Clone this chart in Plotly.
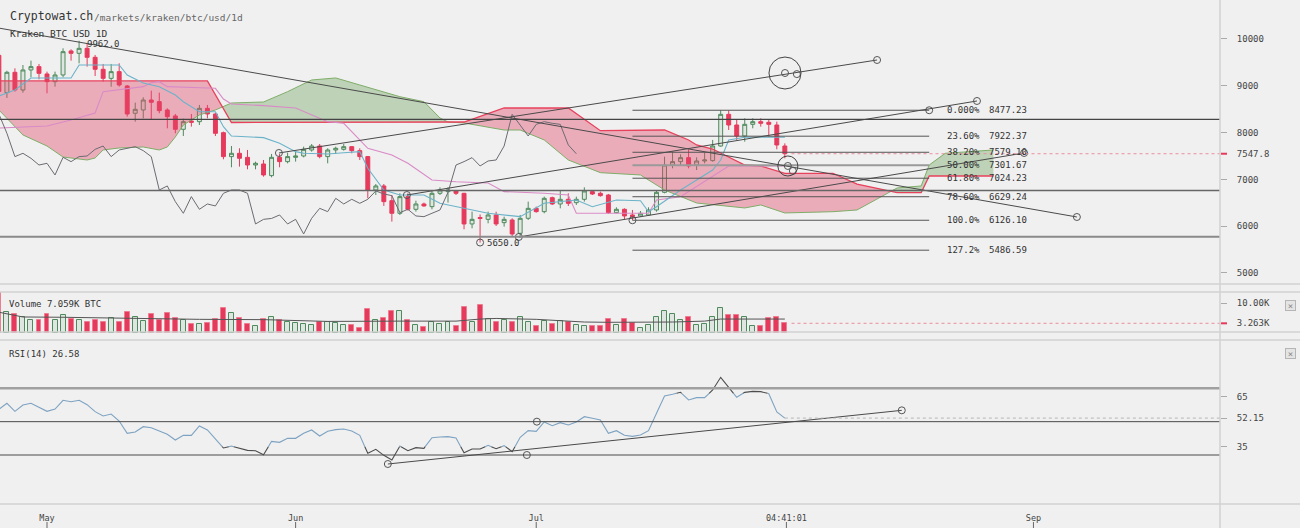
import numpy as np
import pandas as pd
import plotly.graph_objects as go

# ------------------------------------------------------------------ data
first_day = '2018-04-25'
dates = pd.date_range(first_day, periods=99, freq='D')

opens = [9650, 8853, 9288, 8910, 9338, 9409, 9252, 9088, 9231, 9744,
         9694, 9800, 9608, 9352, 9159, 9302, 8996, 8412, 8483, 8696,
         8661, 8483, 8355, 8070, 8248, 8233, 8518, 8397, 7998, 7486,
         7557, 7471, 7307, 7329, 7080, 7471, 7379, 7471, 7500, 7628,
         7713, 7486, 7628, 7642, 7699, 7614, 7486, 6773, 6859, 6545,
         6275, 6631, 6360, 6474, 6417, 6702, 6738, 6759, 6702, 6047,
         6185, 6146, 6239, 6075, 6132, 5847, 6168, 6381, 6310, 6609,
         6474, 6574, 6502, 6574, 6738, 6702, 6666, 6289, 6360, 6239,
         6218, 6239, 6346, 6723, 7307, 7379, 7464, 7307, 7393, 7400,
         7713, 8390, 8162, 7927, 8176, 8233, 8219, 8162, 7713]
highs = [9750, 9320, 9373, 9444, 9537, 9466, 9302, 9302, 9800, 9779,
         9962, 9893, 9658, 9466, 9466, 9480, 9017, 8639, 8753, 8896,
         8853, 8518, 8397, 8298, 8397, 8590, 8590, 8425, 8020, 7713,
         7664, 7628, 7379, 7414, 7543, 7543, 7571, 7592, 7699, 7756,
         7756, 7664, 7699, 7756, 7713, 7664, 7500, 6901, 6901, 6666,
         6702, 6702, 6545, 6503, 6773, 6830, 6830, 6773, 6710, 6310,
         6250, 6310, 6310, 6203, 6168, 6239, 6524, 6417, 6631, 6631,
         6773, 6702, 6631, 6830, 6759, 6738, 6688, 6403, 6381, 6346,
         6324, 6403, 6773, 7485, 7592, 7535, 7642, 7471, 7571, 7842,
         8477.23, 8470, 8283, 8305, 8305, 8305, 8283, 8233, 7770]
lows = [8750, 8740, 8875, 8853, 9181, 9138, 8839, 8981, 9181, 9537,
        9480, 9409, 9209, 9088, 8981, 8981, 8340, 8233, 8305, 8283,
        8412, 8091, 7984, 7927, 8127, 8162, 8305, 7927, 7429, 7258,
        7272, 7215, 7215, 7058, 7044, 7258, 7343, 7379, 7471, 7592,
        7450, 7343, 7543, 7614, 7557, 7414, 6595, 6666, 6432, 6097,
        6239, 6332, 6310, 6417, 6360, 6666, 6503, 6666, 5933, 5954,
        5650, 6061, 6004, 5990, 5776, 5762, 6132, 6289, 6275, 6453,
        6381, 6431, 6453, 6524, 6666, 6631, 6260, 6275, 6150, 6126.1,
        6203, 6218, 6310, 6702, 7236, 7286, 7236, 7200, 7343, 7379,
        7699, 8055, 7842, 7806, 8091, 8127, 7913, 7642, 7450]
closes = [8880, 9288, 8910, 9338, 9409, 9266, 9088, 9231, 9729, 9694,
          9800, 9608, 9352, 9159, 9302, 9017, 8397, 8497, 8696, 8647,
          8469, 8340, 8070, 8233, 8219, 8518, 8397, 7984, 7486, 7557,
          7450, 7307, 7343, 7094, 7471, 7379, 7486, 7500, 7642, 7713,
          7486, 7628, 7664, 7699, 7614, 7486, 6773, 6859, 6524, 6275,
          6631, 6360, 6474, 6432, 6702, 6773, 6773, 6702, 6047, 6146,
          6165, 6239, 6047, 6146, 5833, 6168, 6381, 6310, 6595, 6474,
          6574, 6488, 6574, 6752, 6688, 6652, 6289, 6360, 6218, 6203,
          6275, 6346, 6723, 7307, 7379, 7464, 7286, 7393, 7414, 7713,
          8390, 8162, 7927, 8176, 8233, 8198, 8176, 7735, 7547.8]
volumes = [15000, 7000, 6300, 5300, 4300, 4500, 6300, 4300, 6100, 4800,
           4500, 3600, 4500, 3600, 4900, 3600, 7200, 5500, 4000, 6300,
           4300, 6600, 4900, 4500, 2900, 2900, 3400, 4700, 8300, 6800,
           5200, 2900, 2500, 4700, 5300, 4300, 3600, 3400, 2900, 2700,
           3800, 3800, 3400, 2700, 2700, 1800, 8100, 4300, 5200, 7400,
           7400, 4500, 2700, 2000, 3800, 2900, 3800, 2500, 8800, 3800,
           9400, 4700, 3800, 4300, 3800, 5300, 3800, 2200, 4000, 2900,
           4000, 3600, 2700, 2500, 2200, 2500, 4700, 2700, 4700, 3400,
           1800, 2700, 5300, 7400, 6300, 4300, 5300, 2700, 2900, 5500,
           8300, 6100, 6100, 5500, 2200, 2200, 4900, 5500, 3263]
rsi = [57.4, 61.0, 56.2, 60.0, 61.0, 58.6, 56.2, 57.6, 62.8, 62.0,
       62.8, 60.2, 56.0, 53.4, 54.6, 50.4, 43.0, 43.8, 47.0, 46.4,
       44.2, 42.4, 39.0, 41.8, 41.8, 47.4, 45.0, 39.4, 34.2, 35.4,
       34.0, 32.8, 32.6, 30.2, 38.2, 37.6, 40.0, 40.0, 43.0, 45.0,
       41.4, 44.2, 45.2, 45.6, 44.4, 41.8, 31.0, 33.4, 29.8, 27.0,
       35.4, 32.6, 34.4, 34.0, 40.4, 40.8, 41.0, 40.2, 31.4, 33.6,
       33.6, 35.8, 33.8, 35.6, 32.0, 40.6, 44.6, 44.2, 49.8, 47.6,
       49.4, 48.0, 49.8, 53.0, 52.0, 51.0, 43.0, 44.6, 41.8, 41.2,
       42.0, 44.6, 55.0, 65.4, 66.4, 67.6, 63.0, 64.4, 64.4, 69.0,
       76.6, 70.6, 64.6, 67.6, 68.2, 68.0, 66.8, 55.8, 52.15]

tenkan_dates = ['2018-04-25', '2018-04-27', '2018-04-29', '2018-05-04', '2018-05-05',
                '2018-05-10', '2018-05-11', '2018-05-13', '2018-05-15', '2018-05-17',
                '2018-05-18', '2018-05-20', '2018-05-22', '2018-05-23', '2018-05-24',
                '2018-05-28', '2018-05-30', '2018-06-01', '2018-06-02', '2018-06-05',
                '2018-06-07', '2018-06-09', '2018-06-10', '2018-06-12', '2018-06-14',
                '2018-06-17', '2018-06-19', '2018-06-21', '2018-06-25', '2018-06-29',
                '2018-07-02', '2018-07-06', '2018-07-08', '2018-07-11', '2018-07-14',
                '2018-07-15', '2018-07-16', '2018-07-19', '2018-07-21', '2018-07-23',
                '2018-07-24', '2018-07-25', '2018-07-27', '2018-08-01']
tenkan_vals = [8782, 8910, 9167, 9167, 9444, 9444, 9231, 9060, 8981, 8803,
               8660, 8446, 8446, 8126, 7927, 7891, 7771, 7592, 7557, 7542,
               7570, 7592, 7237, 6773, 6666, 6666, 6489, 6416, 6275, 6203,
               6489, 6559, 6416, 6559, 6544, 6309, 6416, 6773, 6987, 7200,
               7414, 7842, 7899, 7899]

kijun_dates = ['2018-04-25', '2018-05-01', '2018-05-04', '2018-05-07', '2018-05-08',
               '2018-05-13', '2018-05-14', '2018-05-15', '2018-05-16', '2018-05-22',
               '2018-05-23', '2018-05-24', '2018-05-28', '2018-06-01', '2018-06-05',
               '2018-06-07', '2018-06-10', '2018-06-11', '2018-06-13', '2018-06-15',
               '2018-06-18', '2018-06-21', '2018-06-25', '2018-06-27', '2018-07-02',
               '2018-07-05', '2018-07-06', '2018-07-15', '2018-07-16', '2018-07-19',
               '2018-07-21', '2018-07-23', '2018-07-25', '2018-08-01']
kijun_vals = [8098, 8141, 8269, 8419, 8874, 8981, 9066, 9088, 8981, 8946,
              8718, 8611, 8575, 8525, 8233, 8199, 7664, 7613, 7521, 7344,
              6987, 6950, 6923, 6737, 6703, 6666, 6275, 6275, 6559, 6630,
              6844, 7057, 7286, 7286]

span_a_dates = ['2018-04-25', '2018-04-28', '2018-05-01', '2018-05-03', '2018-05-06',
                '2018-05-07', '2018-05-08', '2018-05-10', '2018-05-13', '2018-05-15',
                '2018-05-16', '2018-05-17', '2018-05-18', '2018-05-20', '2018-05-22',
                '2018-05-24', '2018-05-28', '2018-05-31', '2018-06-03', '2018-06-06',
                '2018-06-09', '2018-06-12', '2018-06-14', '2018-06-17', '2018-06-19',
                '2018-06-20', '2018-06-22', '2018-06-27', '2018-06-29', '2018-07-02',
                '2018-07-05', '2018-07-09', '2018-07-14', '2018-07-17', '2018-07-19',
                '2018-07-21', '2018-07-27', '2018-07-29', '2018-08-01', '2018-08-07',
                '2018-08-10', '2018-08-15', '2018-08-18', '2018-08-19', '2018-08-21',
                '2018-08-27']
span_a_vals = [8483, 7949, 7713, 7478, 7414, 7457, 7628, 7671, 7692, 7628,
               7692, 7906, 8162, 8376, 8483, 8632, 8654, 8874, 9124, 9167,
               9017, 8867, 8767, 8660, 8312, 8226, 8205, 8055, 8055, 7842,
               7414, 7143, 7094, 6773, 6630, 6495, 6389, 6453, 6282, 6309,
               6346, 6816, 6859, 7307, 7557, 7628]

span_b_dates = ['2018-04-25', '2018-05-21', '2018-05-24', '2018-06-22', '2018-06-27',
                '2018-07-05', '2018-07-09', '2018-07-17', '2018-07-20', '2018-07-21',
                '2018-07-23', '2018-07-27', '2018-07-29', '2018-08-01', '2018-08-07',
                '2018-08-10', '2018-08-15', '2018-08-18', '2018-08-19', '2018-08-27']
span_b_vals = [9103, 9103, 8215, 8226, 8525, 8525, 8040, 8055, 7842, 7735,
               7649, 7307, 7286, 7130, 7130, 6900, 6716, 6716, 7072, 7072]

chikou_shift_days = 26

vol_ma_dates = ['2018-04-25', '2018-04-28', '2018-05-03', '2018-05-12', '2018-05-20',
                '2018-05-28', '2018-06-05', '2018-06-14', '2018-06-21', '2018-06-24',
                '2018-06-26', '2018-07-01', '2018-07-07', '2018-07-10', '2018-07-18',
                '2018-07-22', '2018-07-24', '2018-08-01']
vol_ma_vals = [7000, 5400, 5300, 4900, 4600, 4500, 3900, 4000, 4000, 4700,
               4900, 4600, 3700, 3600, 3700, 4000, 4700, 4700]

fib_start = '2018-07-13'
fib_end = '2018-08-19'
fib_levels = [0.0, 23.6, 38.2, 50.0, 61.8, 78.6, 100.0, 127.2]
fib_prices = [8477.23, 7922.37, 7579.10, 7301.67, 7024.23, 6629.24, 6126.10, 5486.59]

level_prices = [8284, 6763, 5775]

trend_starts = ['2018-04-19 00:00', '2018-05-29 22:00', '2018-06-14 21:00', '2018-06-28 20:00']
trend_start_prices = [10413, 7564, 6666, 5769]
trend_ends = ['2018-09-06 10:00', '2018-08-12 12:00', '2018-08-24 23:00', '2018-08-30 20:00']
trend_end_prices = [6196, 9551, 8675, 7564]

circle_centers = ['2018-08-01 00:30', '2018-08-01 09:00']
circle_center_prices = [9273, 7286]
circle_radius_days = [2.0, 1.25]
circle_radius_price = [342, 214]
circle_handles = ['2018-08-02 12:00', '2018-08-02 00:00']
circle_handle_prices = [9250, 7180]

high_label_date, high_label_price = '2018-05-05', 9962.0
low_label_date, low_label_price = '2018-06-24', 5650.0

current_price = 7547.8
current_volume = 3263
current_rsi = 52.15

rsi_levels = [70, 50, 30]
rsi_level_handles = ['2018-07-01 02:00', '2018-06-29 20:00']
rsi_level_handle_vals = [50, 30]
rsi_trend_dates = ['2018-06-12 12:00', '2018-08-15 14:00']
rsi_trend_vals = [24.6, 56.8]
rsi_band = (35, 67)

x_tick_vals = ['2018-05-01', '2018-06-01', '2018-07-01', '2018-08-01 04:41:01', '2018-09-01']
x_tick_text = ['May', 'Jun', 'Jul', '04:41:01', 'Sep']
price_ticks = [5000, 6000, 7000, 8000, 9000, 10000]

# ------------------------------------------------------------------ style
W, H = 1300, 528
BG = '#f0f0f0'
MONO = 'DejaVu Sans Mono'
RED = '#e63a5c'
GREEN = '#4f8a5d'
GREEN_FILL = 'rgba(79,138,93,0.10)'
CLOUD_RED = 'rgba(228,70,105,0.40)'
CLOUD_GREEN = 'rgba(105,160,90,0.38)'
SPAN_A_COL = '#7fae69'
SPAN_B_COL = '#e8415c'
TENKAN_COL = '#6cb3c9'
KIJUN_COL = '#d98ac6'
CHIKOU_COL = '#6b6b72'
DRAW = '#555555'
SEP = '#d2d2d2'

X_RIGHT = 1220


def px(x):
    return x / W


def py(y):
    return 1 - y / H


def day_num(vals):
    return pd.DatetimeIndex(pd.to_datetime(vals)).asi8 / 8.64e13


def num_to_dt(arr):
    return [None if v is None else pd.Timestamp(int(round(v * 86400)), unit='s') for v in arr]


X_RANGE = ['2018-04-25 03:20', '2018-09-24 06:15']
PRICE_RANGE = [4764, 10833]
VOL_RANGE = [0, 13810]
RSI_RANGE = [0.6, 99.0]

fig = go.Figure()
common = dict(hoverinfo='skip', showlegend=False)

# ------------------------------------------------------------------ cloud
a_x = day_num(span_a_dates)
b_x = day_num(span_b_dates)
g = np.union1d(a_x, b_x)
g = g[(g >= max(a_x[0], b_x[0])) & (g <= min(a_x[-1], b_x[-1]))]
A = np.interp(g, a_x, span_a_vals)
B = np.interp(g, b_x, span_b_vals)
gx, ga, gb = [g[0]], [A[0]], [B[0]]
for i in range(len(g) - 1):
    d0 = A[i] - B[i]
    d1 = A[i + 1] - B[i + 1]
    if d0 * d1 < 0:
        t = d0 / (d0 - d1)
        xc = g[i] + t * (g[i + 1] - g[i])
        yc = A[i] + t * (A[i + 1] - A[i])
        gx.append(xc); ga.append(yc); gb.append(yc)
    gx.append(g[i + 1]); ga.append(A[i + 1]); gb.append(B[i + 1])
ga = np.array(ga); gb = np.array(gb)
top = np.maximum(ga, gb)
cx = num_to_dt(gx)
fig.add_trace(go.Scatter(x=cx, y=gb, mode='lines', line=dict(width=0), **common))
fig.add_trace(go.Scatter(x=cx, y=top, mode='lines', line=dict(width=0), fill='tonexty',
                         fillcolor=CLOUD_GREEN, **common))
fig.add_trace(go.Scatter(x=cx, y=ga, mode='lines', line=dict(width=0), **common))
fig.add_trace(go.Scatter(x=cx, y=top, mode='lines', line=dict(width=0), fill='tonexty',
                         fillcolor=CLOUD_RED, **common))
fig.add_trace(go.Scatter(x=pd.to_datetime(span_a_dates), y=span_a_vals, mode='lines',
                         line=dict(color=SPAN_A_COL, width=1), **common))
fig.add_trace(go.Scatter(x=pd.to_datetime(span_b_dates), y=span_b_vals, mode='lines',
                         line=dict(color=SPAN_B_COL, width=1.3), **common))

# ichimoku lines
fig.add_trace(go.Scatter(x=pd.to_datetime(kijun_dates), y=kijun_vals, mode='lines',
                         line=dict(color=KIJUN_COL, width=1.1), **common))
fig.add_trace(go.Scatter(x=pd.to_datetime(tenkan_dates), y=tenkan_vals, mode='lines',
                         line=dict(color=TENKAN_COL, width=1.1), **common))
fig.add_trace(go.Scatter(x=dates - pd.Timedelta(days=chikou_shift_days), y=closes, mode='lines',
                         line=dict(color=CHIKOU_COL, width=1), **common))

# candles
fig.add_trace(go.Candlestick(
    x=dates, open=opens, high=highs, low=lows, close=closes,
    increasing=dict(line=dict(color=GREEN, width=1), fillcolor=GREEN_FILL),
    decreasing=dict(line=dict(color=RED, width=1), fillcolor=RED),
    whiskerwidth=0, hoverinfo='skip', showlegend=False))

# level lines (full width)
shapes = []
level_styles = [('#444444', 1.2), ('#666666', 1.6), ('#8a8a8a', 2)]
for p, (c, w) in zip(level_prices, level_styles):
    shapes.append(dict(type='line', xref='x domain', yref='y', x0=0, x1=1, y0=p, y1=p,
                       line=dict(color=c, width=w), layer='above'))

# fibonacci
annotations = []
for lvl, p in zip(fib_levels, fib_prices):
    wcol = ('#9a9a9a', 2) if lvl == 50.0 else (DRAW, 1)
    fig.add_trace(go.Scatter(x=[fib_start, fib_end], y=[p, p], mode='lines',
                             line=dict(color=wcol[0], width=wcol[1]), **common))
    if lvl < 10:
        pct = f'{lvl:.3f}%'
    elif lvl < 100:
        pct = f'{lvl:.2f}%'
    else:
        pct = f'{lvl:.1f}%'
    annotations.append(dict(x=pd.Timestamp(fib_end) + pd.Timedelta(hours=48), y=p, xref='x', yref='y',
                            text=pct, showarrow=False, xanchor='left', yanchor='middle',
                            font=dict(family=MONO, size=9, color='#333')))
    annotations.append(dict(x=pd.Timestamp(fib_end) + pd.Timedelta(hours=173), y=p, xref='x', yref='y',
                            text=f'{p:.2f}', showarrow=False, xanchor='left', yanchor='middle',
                            font=dict(family=MONO, size=9, color='#333')))
fig.add_trace(go.Scatter(x=[fib_start, fib_end], y=[fib_prices[6], fib_prices[0]], mode='markers',
                         marker=dict(symbol='circle-open', size=7, color=DRAW, line=dict(width=1)), **common))

# trend lines
for s, sp, e, ep in zip(trend_starts, trend_start_prices, trend_ends, trend_end_prices):
    fig.add_trace(go.Scatter(x=[s, e], y=[sp, ep], mode='lines+markers',
                             line=dict(color='#4a4a4a', width=1),
                             marker=dict(symbol='circle-open', size=7, color=DRAW, line=dict(width=1)),
                             **common))

# circle drawings
for c, cp, rd, rp, h, hp in zip(circle_centers, circle_center_prices, circle_radius_days,
                                circle_radius_price, circle_handles, circle_handle_prices):
    c0 = pd.Timestamp(c)
    shapes.append(dict(type='circle', xref='x', yref='y',
                       x0=c0 - pd.Timedelta(hours=rd * 24), x1=c0 + pd.Timedelta(hours=rd * 24),
                       y0=cp - rp, y1=cp + rp, line=dict(color='#444', width=1)))
    fig.add_trace(go.Scatter(x=[c, h], y=[cp, hp], mode='markers',
                             marker=dict(symbol='circle-open', size=7, color=DRAW, line=dict(width=1)),
                             **common))

# high / low labels
fig.add_trace(go.Scatter(x=[low_label_date], y=[low_label_price], mode='markers',
                         marker=dict(symbol='circle-open', size=7, color=DRAW, line=dict(width=1)), **common))
annotations.append(dict(x=low_label_date, y=low_label_price, xref='x', yref='y', text=f'{low_label_price:.1f}',
                        showarrow=False, xanchor='left', yanchor='middle', xshift=5,
                        font=dict(family=MONO, size=9, color='#333')))
annotations.append(dict(x=high_label_date, y=high_label_price, xref='x', yref='y', text=f'{high_label_price:.1f}',
                        showarrow=False, xanchor='left', yanchor='middle', xshift=6, yshift=-3,
                        font=dict(family=MONO, size=9, color='#333')))

# current price line
last_day = dates[-1]
fig.add_trace(go.Scatter(x=[last_day + pd.Timedelta(hours=20), X_RANGE[1]], y=[current_price] * 2,
                         mode='lines', line=dict(color='#ec8d9e', width=1, dash='dot'), **common))

# ------------------------------------------------------------------ volume
vol_fill = [RED if c < o else GREEN_FILL for o, c in zip(opens, closes)]
vol_line = ['#ee7d92' if c < o else GREEN for o, c in zip(opens, closes)]
fig.add_trace(go.Bar(x=dates, y=volumes, width=0.62 * 86400000, yaxis='y2',
                     marker=dict(color=vol_fill, line=dict(color=vol_line, width=1)), **common))
fig.add_trace(go.Scatter(x=pd.to_datetime(vol_ma_dates), y=vol_ma_vals, yaxis='y2', mode='lines',
                         line=dict(color='#555', width=1), **common))
fig.add_trace(go.Scatter(x=[last_day + pd.Timedelta(hours=20), X_RANGE[1]], y=[current_volume] * 2,
                         yaxis='y2', mode='lines', line=dict(color='#ec8d9e', width=1, dash='dot'), **common))

# ------------------------------------------------------------------ RSI
rsi_x = day_num(dates)
lo_b, hi_b = rsi_band
runs = []
cur = None
for i in range(len(rsi_x) - 1):
    x0, x1, y0, y1 = rsi_x[i], rsi_x[i + 1], rsi[i], rsi[i + 1]
    ts = [0.0, 1.0]
    for th in (lo_b, hi_b):
        if (y0 - th) * (y1 - th) < 0:
            ts.append((th - y0) / (y1 - y0))
    ts.sort()
    for ta, tb in zip(ts[:-1], ts[1:]):
        xa, xb = x0 + ta * (x1 - x0), x0 + tb * (x1 - x0)
        ya, yb = y0 + ta * (y1 - y0), y0 + tb * (y1 - y0)
        inside = lo_b <= (ya + yb) / 2 <= hi_b
        if cur is not None and cur[0] == inside:
            cur[1].append(xb); cur[2].append(yb)
        else:
            cur = [inside, [xa, xb], [ya, yb]]
            runs.append(cur)
for flag, col in ((True, '#7ea3c2'), (False, '#4d4d4d')):
    xs, ys = [], []
    for r in runs:
        if r[0] == flag:
            xs += r[1] + [None]
            ys += r[2] + [None]
    fig.add_trace(go.Scatter(x=num_to_dt(xs), y=ys, yaxis='y3', mode='lines',
                             line=dict(color=col, width=1.1), connectgaps=False, **common))

rsi_level_styles = [('#a0a0a0', 2.5), ('#4a4a4a', 1), ('#4a4a4a', 1)]
for v, (c, w) in zip(rsi_levels, rsi_level_styles):
    shapes.append(dict(type='line', xref='x domain', yref='y3', x0=0, x1=1, y0=v, y1=v,
                       line=dict(color=c, width=w)))
fig.add_trace(go.Scatter(x=rsi_level_handles, y=rsi_level_handle_vals, yaxis='y3', mode='markers',
                         marker=dict(symbol='circle-open', size=7, color=DRAW, line=dict(width=1)), **common))
fig.add_trace(go.Scatter(x=rsi_trend_dates, y=rsi_trend_vals, yaxis='y3', mode='lines+markers',
                         line=dict(color='#4a4a4a', width=1),
                         marker=dict(symbol='circle-open', size=7, color=DRAW, line=dict(width=1)), **common))
fig.add_trace(go.Scatter(x=[last_day, X_RANGE[1]], y=[current_rsi] * 2, yaxis='y3', mode='lines',
                         line=dict(color='#b5b5b5', width=1, dash='dot'), **common))

# ------------------------------------------------------------------ frame
for yy in (284, 292, 332, 340, 504):
    shapes.append(dict(type='line', xref='paper', yref='paper', x0=0, x1=1, y0=py(yy), y1=py(yy),
                       line=dict(color=SEP, width=1.5)))
shapes.append(dict(type='line', xref='paper', yref='paper', x0=px(X_RIGHT), x1=px(X_RIGHT), y0=0, y1=1,
                   line=dict(color=SEP, width=1.5)))
shapes.append(dict(type='line', xref='paper', yref='y', x0=px(X_RIGHT + 1), x1=px(X_RIGHT + 7),
                   y0=current_price, y1=current_price, line=dict(color=RED, width=2)))
shapes.append(dict(type='line', xref='paper', yref='y2', x0=px(X_RIGHT + 1), x1=px(X_RIGHT + 7),
                   y0=current_volume, y1=current_volume, line=dict(color=RED, width=2)))
for tv in x_tick_vals:
    shapes.append(dict(type='line', xref='x', yref='paper', x0=tv, x1=tv, y0=0, y1=py(522),
                       line=dict(color='#666', width=1)))

annotations += [
    dict(x=px(8), y=py(16), xref='paper', yref='paper', text='Cryptowat.ch', showarrow=False,
         xanchor='left', yanchor='middle', font=dict(family=MONO, size=11.5, color='#333')),
    dict(x=px(92), y=py(17), xref='paper', yref='paper', text='/markets/kraken/btc/usd/1d', showarrow=False,
         xanchor='left', yanchor='middle', font=dict(family=MONO, size=9.5, color='#666')),
    dict(x=px(8), y=py(33), xref='paper', yref='paper', text='Kraken BTC USD 1D', showarrow=False,
         xanchor='left', yanchor='middle', font=dict(family=MONO, size=9.5, color='#333')),
    dict(x=px(7), y=py(304), xref='paper', yref='paper', text='Volume 7.059K BTC', showarrow=False,
         xanchor='left', yanchor='middle', font=dict(family=MONO, size=9, color='#333')),
    dict(x=px(7), y=py(354), xref='paper', yref='paper', text='RSI(14) 26.58', showarrow=False,
         xanchor='left', yanchor='middle', font=dict(family=MONO, size=9, color='#333')),
]
for yy in (305, 353):
    annotations.append(dict(x=px(1290), y=py(yy), xref='paper', yref='paper', text='×', showarrow=False,
                            xanchor='center', yanchor='middle', width=9, height=9, borderpad=0,
                            bordercolor='#b5b5b5', borderwidth=1, bgcolor='#e4e4e4',
                            font=dict(family=MONO, size=9, color='#888')))

axis_font = dict(family=MONO, size=9, color='#444')
fig.update_layout(
    width=W, height=H, margin=dict(l=0, r=0, t=0, b=0),
    paper_bgcolor=BG, plot_bgcolor=BG, showlegend=False,
    font=dict(family=MONO, size=9, color='#444'),
    bargap=0,
    xaxis=dict(domain=[0, px(X_RIGHT)], range=X_RANGE, type='date', anchor='y3',
               showgrid=False, zeroline=False, showline=False, ticks='',
               tickvals=x_tick_vals, ticktext=x_tick_text, tickfont=dict(family=MONO, size=8.5, color='#444'),
               rangeslider=dict(visible=False), ticklabelstandoff=7),
    yaxis=dict(domain=[py(284), 1], range=PRICE_RANGE, side='right', anchor='x',
               showgrid=False, zeroline=False, showline=False, ticks='outside', ticklen=6, tickcolor='#aaa',
               tickvals=price_ticks + [current_price],
               ticktext=[str(t) for t in price_ticks] + [f'{current_price:.1f}'],
               tickfont=axis_font, ticklabelstandoff=8),
    yaxis2=dict(domain=[py(333), py(292)], range=VOL_RANGE, side='right', anchor='x',
                showgrid=False, zeroline=False, showline=False, ticks='outside', ticklen=6, tickcolor='#aaa',
                tickvals=[10000, current_volume], ticktext=['10.00K', f'{current_volume / 1000:.3f}K'],
                tickfont=axis_font, ticklabelstandoff=8),
    yaxis3=dict(domain=[py(504), py(340)], range=RSI_RANGE, side='right', anchor='x',
                showgrid=False, zeroline=False, showline=False, ticks='outside', ticklen=6, tickcolor='#aaa',
                tickvals=[65, current_rsi, 35], ticktext=['65', f'{current_rsi:.2f}', '35'],
                tickfont=axis_font, ticklabelstandoff=8),
    shapes=shapes, annotations=annotations,
)

fig.write_html('out.html')
